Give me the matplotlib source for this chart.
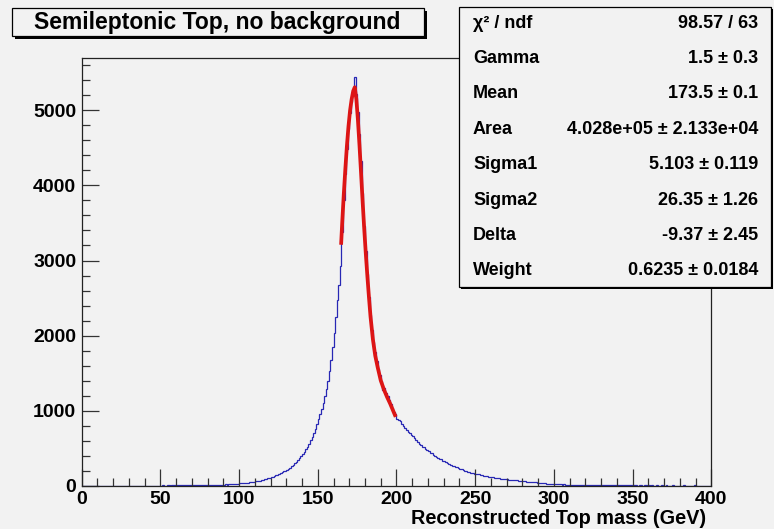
import numpy as np
import matplotlib
matplotlib.use("Agg")
from matplotlib import pyplot as plt
from matplotlib.patches import Rectangle

plt.rcParams['font.family'] = ['Liberation Sans', 'DejaVu Sans']
plt.rcParams['font.weight'] = 'bold'

# Histogram: reconstructed top mass, 1 GeV bins from 0 to 400
counts = [0] * 50 + [
    0, 1, 0, 0, 1, 1, 0, 1, 1, 1,                                  # 50
    1, 1, 2, 1, 2, 2, 1, 2, 3, 2,                                  # 60
    3, 2, 3, 4, 3, 4, 4, 5, 4, 6,                                  # 70
    5, 6, 6, 7, 8, 7, 9, 9, 10, 12,                                # 80
    12, 14, 13, 16, 17, 18, 20, 21, 24, 25,                        # 90
    27, 28, 31, 33, 36, 38, 41, 44, 47, 51,                        # 100
    54, 58, 63, 66, 72, 77, 82, 89, 95, 104,                       # 110
    110, 118, 125, 136, 144, 155, 164, 176, 188, 200,              # 120
    212, 226, 240, 258, 276, 295, 316, 340, 365, 392,              # 130
    420, 452, 485, 520, 560, 605, 650, 700, 760, 820,              # 140
    885, 950, 1020, 1100, 1190, 1290, 1400, 1530, 1680, 1850,      # 150
    2040, 2250, 2470, 2680, 2930, 3380, 3800, 4150, 4480, 4750,    # 160
    4960, 5110, 5240, 5440, 5220, 4980, 4680, 4320, 3900, 3460,    # 170
    3120, 2820, 2520, 2280, 2080, 1920, 1780, 1660, 1560, 1470,    # 180
    1390, 1280, 1300, 1240, 1190, 1140, 1090, 1040, 985, 950,      # 190
    890, 870, 855, 815, 800, 765, 745, 720, 705, 675,              # 200
    660, 630, 605, 585, 560, 545, 520, 510, 488, 472,              # 210
    458, 440, 428, 408, 398, 380, 372, 356, 348, 333,              # 220
    328, 310, 302, 288, 280, 266, 260, 248, 244, 230,              # 230
    226, 214, 210, 198, 195, 184, 182, 172, 170, 160,              # 240
    158, 150, 148, 140, 137, 130, 128, 122, 120, 114,              # 250
    112, 107, 105, 100, 99, 94, 93, 88, 87, 83,                    # 260
    82, 77, 77, 72, 72, 67, 67, 63, 63, 59,                        # 270
    58, 54, 53, 49, 49, 45, 45, 41, 41, 37,                        # 280
    37, 33, 33, 29, 29, 26, 26, 23, 23, 20,                        # 290
    21, 18, 18, 15, 16, 13, 14, 12, 12, 10,                        # 300
    10, 9, 9, 8, 8, 7, 7, 6, 7, 5,                                 # 310
    6, 5, 5, 4, 5, 4, 4, 3, 4, 3,                                  # 320
    3, 3, 2, 3, 2, 2, 3, 2, 2, 2,                                  # 330
    2, 1, 2, 1, 2, 1, 1, 2, 1, 1,                                  # 340
    1, 1, 1, 0, 1, 1, 0, 1, 1, 0,                                  # 350
    1, 0, 1, 0, 0, 1, 0, 0, 1, 0,                                  # 360
    0, 1, 0, 0, 0, 1, 0, 0, 0, 0,                                  # 370
    0, 0, 1, 0, 0, 0, 0, 0, 0, 1,                                  # 380
    0, 0, 0, 0, 0, 0, 0, 0, 0, 0,                                  # 390
]
bin_edges = np.arange(0, 401, 1)

# fitted curve
fit_mass = [164.8, 165.5, 166.5, 167.5, 168.5, 169.5, 170.5, 171.5, 172.5,
            173.5, 174.5, 175.5, 176.5, 177.5, 178.5, 179.5, 180.5, 181.5,
            182.5, 183.5, 185, 186.5, 188, 190, 192, 194, 196, 198, 199.5]
fit_counts = [3210, 3500, 3880, 4220, 4530, 4790, 5000, 5150, 5260,
              5310, 5150, 4870, 4530, 4160, 3780, 3420, 3090, 2790,
              2510, 2250, 1950, 1730, 1580, 1400, 1280, 1180, 1090, 990, 915]

# fit results box
stat_names = ["χ² / ndf", "Gamma", "Mean", "Area", "Sigma1", "Sigma2", "Delta", "Weight"]
stat_values = ["98.57 / 63", "1.5 ± 0.3", "173.5 ± 0.1", "4.028e+05 ± 2.133e+04",
               "5.103 ± 0.119", "26.35 ± 1.26", "-9.37 ± 2.45", "0.6235 ± 0.0184"]

W, H = 774, 529
bg = '#f2f2f2'

fig = plt.figure(figsize=(W / 100, H / 100), dpi=100, facecolor=bg)
ax = fig.add_axes([81.7 / W, 1 - 485.5 / H, (711.3 - 81.7) / W, (485.5 - 58) / H])
ax.set_facecolor(bg)

ax.stairs(counts, bin_edges, color='#2828b4', lw=0.9)
ax.plot(fit_mass, fit_counts, color='#dd1515', lw=2.7, solid_capstyle='butt')

ax.set_xlim(0, 400)
ax.set_ylim(0, 5700)
ax.set_xticks(np.arange(0, 401, 50))
ax.set_xticks(np.arange(0, 401, 10), minor=True)
ax.set_yticks(np.arange(0, 5001, 1000))
ax.set_yticks(np.arange(0, 5700, 200), minor=True)
ax.tick_params(which='both', direction='in', top=False, right=False,
               labelsize=14, pad=4, color='#333333')
ax.tick_params(which='major', length=12, width=0.9)
ax.tick_params(which='minor', length=6, width=0.9)
for lab in ax.get_xticklabels() + ax.get_yticklabels():
    lab.set_fontweight('bold')
for sp in ax.spines.values():
    sp.set_linewidth(0.9)
    sp.set_color('#222222')

fig.text(706 / W, 1 - 519 / H, "Reconstructed Top mass (GeV)", ha='right',
         va='center', fontsize=14.3, fontweight='bold')


def box(x0, y0, x1, y1, shadow=3):
    # pixel coords, top-left origin
    fig.patches.append(Rectangle((x0 / W + shadow / W, 1 - (y1 + shadow) / H),
                                 (x1 - x0) / W, (y1 - y0) / H,
                                 transform=fig.transFigure, facecolor='black',
                                 edgecolor='none', zorder=5))
    fig.patches.append(Rectangle((x0 / W, 1 - y1 / H), (x1 - x0) / W, (y1 - y0) / H,
                                 transform=fig.transFigure, facecolor=bg,
                                 edgecolor='black', lw=0.9, zorder=6))


# title box
box(11.7, 8.3, 424, 36, shadow=3)
fig.text(217 / W, 1 - 22 / H, "Semileptonic Top, no background", ha='center',
         va='center', fontsize=16.5, fontweight='bold', zorder=7)

# stats box
box(459, 7, 771, 287, shadow=2)
for i, (name, val) in enumerate(zip(stat_names, stat_values)):
    y = 23 + i * 35.4
    fig.text(473 / W, 1 - y / H, name, ha='left', va='center',
             fontsize=13, fontweight='bold', zorder=7)
    fig.text(758 / W, 1 - y / H, val, ha='right', va='center',
             fontsize=13, fontweight='bold', zorder=7)

fig.savefig('out.png', dpi=100, facecolor=bg)
